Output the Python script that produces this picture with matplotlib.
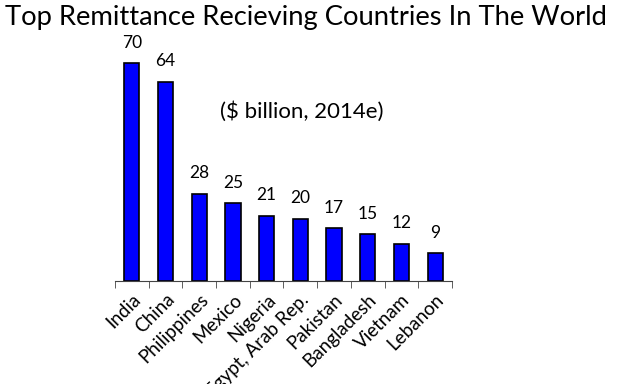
import matplotlib.pyplot as plt
import numpy as np

countries = ['India', 'China', 'Philippines', 'Mexico', 'Nigeria',
             'Egypt, Arab Rep.', 'Pakistan', 'Bangladesh', 'Vietnam', 'Lebanon']
remit = [70, 64, 28, 25, 21, 20, 17, 15, 12, 9]

plt.rcParams['font.family'] = ['Lato', 'DejaVu Sans']

fig = plt.figure(figsize=(6.2, 3.84), dpi=100)
ax = fig.add_axes([0.1855, 0.268, 0.5435, 0.649])

x = np.arange(len(countries))
ax.bar(x, remit, width=0.45, color='#0000ff', edgecolor='black', linewidth=1.2)
for xi, v in zip(x, remit):
    ax.text(xi, v + 4, str(v), ha='center', va='bottom', fontsize=12.5)

ax.set_xlim(-0.5, len(countries) - 0.5)
ax.set_ylim(0, 80)
for s in ['left', 'top', 'right']:
    ax.spines[s].set_visible(False)
ax.spines['bottom'].set_color('#444444')
ax.set_yticks([])
ax.set_xticks(x)
ax.set_xticklabels(countries, rotation=45, ha='right', rotation_mode='anchor', fontsize=13.5)
ax.tick_params(axis='x', which='major', length=0, pad=7)
ax.set_xticks(np.arange(-0.5, len(countries)), minor=True)
ax.tick_params(axis='x', which='minor', length=5, direction='out', color='#444444')

ax.text(0.555, 0.679, '($ billion, 2014e)', transform=ax.transAxes, ha='center',
        va='center', fontsize=16)

fig.text(0.008, 0.955, 'Top Remittance Recieving Countries In The World',
         ha='left', va='center', fontsize=19.7)

fig.savefig('out.png', dpi=100)
